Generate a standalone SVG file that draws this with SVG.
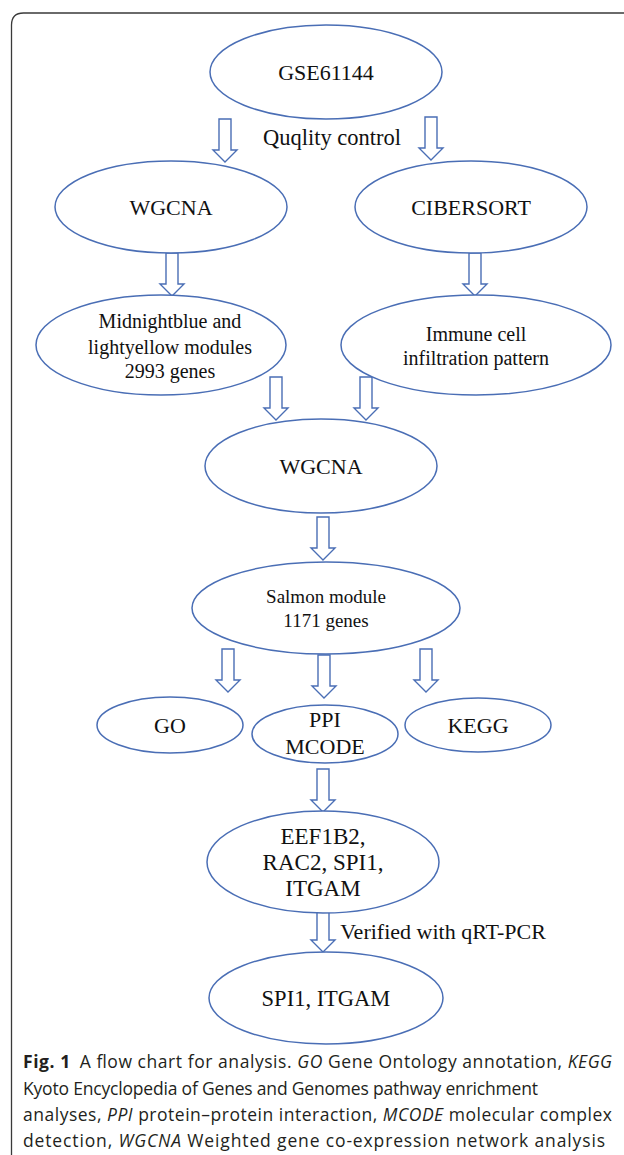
<svg xmlns="http://www.w3.org/2000/svg" xmlns:xlink="http://www.w3.org/1999/xlink" width="624" height="1155" viewBox="0 0 624 1155">
<style>
.n{fill:#fff;stroke:#4a6eb5;stroke-width:1.5}
.t{font-family:"Liberation Serif","Times New Roman",serif;fill:#111;text-anchor:middle}
.a{fill:#fff;stroke:#4a6eb5;stroke-width:1.4;stroke-linejoin:miter}
.c{font-family:"Open Sans","Noto Sans",sans-serif;font-size:17.5px;fill:#231f20}
</style>
<defs>
<path id="arr" d="M-6,0 H6 V31 H12 L0,43 L-12,31 H-6 Z"/>
</defs>
<rect width="624" height="1155" fill="#fff"/>
<path d="M11.5,1155 V25 Q11.5,13 23.5,13 H624" fill="none" stroke="#3a3a3a" stroke-width="1.3"/>
<g id="connectors">
<use href="#arr" class="a" x="225" y="119"/>
<use href="#arr" class="a" x="431" y="117"/>
<use href="#arr" class="a" x="172" y="253"/>
<use href="#arr" class="a" x="475" y="253"/>
<use href="#arr" class="a" x="276" y="377"/>
<use href="#arr" class="a" x="366" y="377"/>
<use href="#arr" class="a" x="323" y="517"/>
<use href="#arr" class="a" x="228" y="649"/>
<use href="#arr" class="a" x="324" y="655"/>
<use href="#arr" class="a" x="426" y="649"/>
<use href="#arr" class="a" x="323" y="769"/>
<use href="#arr" class="a" x="323" y="909"/>
<text class="t" x="332" y="145" font-size="22.5">Quqlity control</text>
<text class="t" x="443" y="939" font-size="22">Verified with qRT-PCR</text>
</g>
<g id="gse">
<ellipse class="n" cx="326" cy="72" rx="116" ry="47"/>
<text class="t" x="326" y="80" font-size="22">GSE61144</text>
</g>
<g id="wgcna1">
<ellipse class="n" cx="171" cy="207" rx="116" ry="46"/>
<text class="t" x="171" y="215" font-size="22">WGCNA</text>
</g>
<g id="cibersort">
<ellipse class="n" cx="471" cy="207" rx="116" ry="46"/>
<text class="t" x="471" y="215" font-size="22">CIBERSORT</text>
</g>
<g id="modules">
<ellipse class="n" cx="161" cy="345" rx="125" ry="50"/>
<text class="t" x="170" y="328" font-size="20">Midnightblue and</text>
<text class="t" x="170" y="354" font-size="20">lightyellow modules</text>
<text class="t" x="170" y="378" font-size="20">2993 genes</text>
</g>
<g id="immune">
<ellipse class="n" cx="476" cy="345" rx="135" ry="50"/>
<text class="t" x="476" y="341" font-size="20">Immune cell</text>
<text class="t" x="476" y="365" font-size="20">infiltration pattern</text>
</g>
<g id="wgcna2">
<ellipse class="n" cx="321" cy="466" rx="116" ry="47"/>
<text class="t" x="321" y="474" font-size="22">WGCNA</text>
</g>
<g id="salmon">
<ellipse class="n" cx="326" cy="608" rx="134" ry="46"/>
<text class="t" x="326" y="603" font-size="19">Salmon module</text>
<text class="t" x="326" y="627" font-size="19">1171 genes</text>
</g>
<g id="go">
<ellipse class="n" cx="170" cy="725" rx="73" ry="28"/>
<text class="t" x="170" y="733" font-size="22">GO</text>
</g>
<g id="ppi">
<ellipse class="n" cx="325" cy="734" rx="73" ry="29"/>
<text class="t" x="325" y="727" font-size="22">PPI</text>
<text class="t" x="325" y="754" font-size="22">MCODE</text>
</g>
<g id="kegg">
<ellipse class="n" cx="478" cy="725" rx="73" ry="27"/>
<text class="t" x="478" y="733" font-size="22">KEGG</text>
</g>
<g id="genes">
<ellipse class="n" cx="323" cy="862" rx="116" ry="51"/>
<text class="t" x="323" y="844" font-size="23">EEF1B2,</text>
<text class="t" x="323" y="870" font-size="23">RAC2, SPI1,</text>
<text class="t" x="323" y="896" font-size="23">ITGAM</text>
</g>
<g id="final">
<ellipse class="n" cx="326" cy="998" rx="117" ry="46"/>
<text class="t" x="326" y="1006" font-size="22.5">SPI1, ITGAM</text>
</g>
<g id="caption">
<text class="c" x="23" y="1068" textLength="589" lengthAdjust="spacing"><tspan font-weight="bold">Fig. 1</tspan><tspan dx="9">A flow chart for analysis. </tspan><tspan font-style="italic">GO</tspan> Gene Ontology annotation, <tspan font-style="italic">KEGG</tspan></text>
<text class="c" x="23" y="1094.5" textLength="515" lengthAdjust="spacing">Kyoto Encyclopedia of Genes and Genomes pathway enrichment</text>
<text class="c" x="23" y="1121" textLength="589" lengthAdjust="spacing">analyses, <tspan font-style="italic">PPI</tspan> protein–protein interaction, <tspan font-style="italic">MCODE</tspan> molecular complex</text>
<text class="c" x="23" y="1146.5" textLength="582" lengthAdjust="spacing">detection, <tspan font-style="italic">WGCNA</tspan> Weighted gene co-expression network analysis</text>
</g>
</svg>
